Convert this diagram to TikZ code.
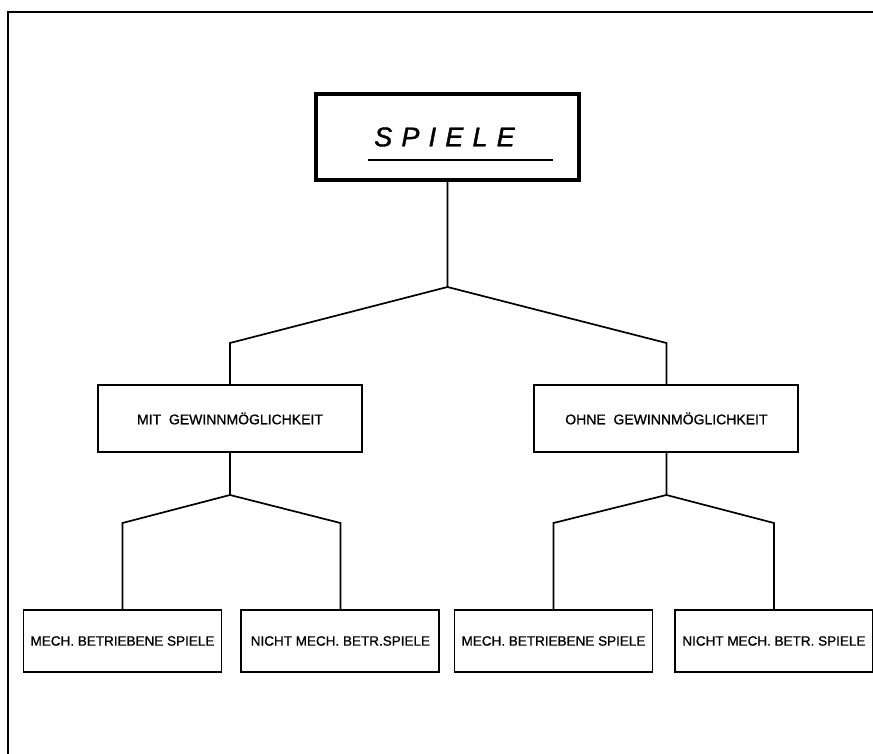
\documentclass[tikz,border=0pt]{standalone}
\usepackage{fontspec}
\setmainfont{Liberation Sans}
\usepackage{tikz}
\usetikzlibrary{positioning}
\tikzset{
    kind/.style={
      rectangle,
      draw=black, line width=1.9pt,
      minimum width=264pt,
      minimum height=67pt,
      inner sep=2pt,
      text centered,
      font=\fontsize{14}{16}\selectfont\addfontfeature{FakeBold=1},
    },
    leaf/.style={
      kind,
      minimum width=198pt,
      minimum height=62pt,
      font=\fontsize{13.5}{16}\selectfont\addfontfeature{FakeBold=1},
    },
    top/.style={
      kind,
      line width=3.2pt,
      minimum width=263pt,
      minimum height=86pt,
      font=\fontsize{27}{30}\selectfont\itshape\addfontfeature{LetterSpace=34,FakeBold=1.5},
    },
    branch/.style={line width=1.7pt},
}

\begin{document}
\begin{tikzpicture}[x=1pt,y=1pt]

    \useasboundingbox (0,0) rectangle (873,754);

    % frame of the sheet
    \draw[line width=2.2pt] (8,0) -- (8,742) -- (873,742);

    \node[top] (SP) at (447.5,617) {SPIELE\hspace*{6pt}};
    \draw[line width=2.4pt]
      ([xshift=-79.5pt,yshift=-23pt]SP.center) -- ([xshift=105.5pt,yshift=-23pt]SP.center);

    \node[kind] (MIT) at (230,335.5) {MIT\ \ GEWINNMÖGLICHKEIT};
    \node[kind, right=170.5pt of MIT] (OHNE) {OHNE\ \ GEWINNMÖGLICHKEIT};

    \node[leaf] (MB1) at (122.5,113) {MECH. BETRIEBENE SPIELE};
    \node[leaf, right=18pt of MB1] (NM1) {NICHT MECH. BETR.SPIELE};
    \node[leaf] (MB2) at (553.5,113) {MECH. BETRIEBENE SPIELE};
    \node[leaf, right=20.5pt of MB2] (NM2) {NICHT MECH. BETR. SPIELE};

    % forks
    \coordinate (J0) at (SP.south |- 0,467);
    \coordinate (J1) at (MIT.south |- 0,259);
    \coordinate (J2) at (OHNE.south |- 0,259);

    \draw[branch] (SP.south) -- (J0) -- (MIT.north |- 0,411) -- (MIT.north);
    \draw[branch] (J0) -- (OHNE.north |- 0,411) -- (OHNE.north);

    \draw[branch] (MIT.south) -- (J1) -- (MB1.north |- 0,231) -- (MB1.north);
    \draw[branch] (J1) -- (NM1.north |- 0,231) -- (NM1.north);

    \draw[branch] (OHNE.south) -- (J2) -- (MB2.north |- 0,231) -- (MB2.north);
    \draw[branch] (J2) -- (NM2.north |- 0,231) -- (NM2.north);

\end{tikzpicture}
\end{document}
